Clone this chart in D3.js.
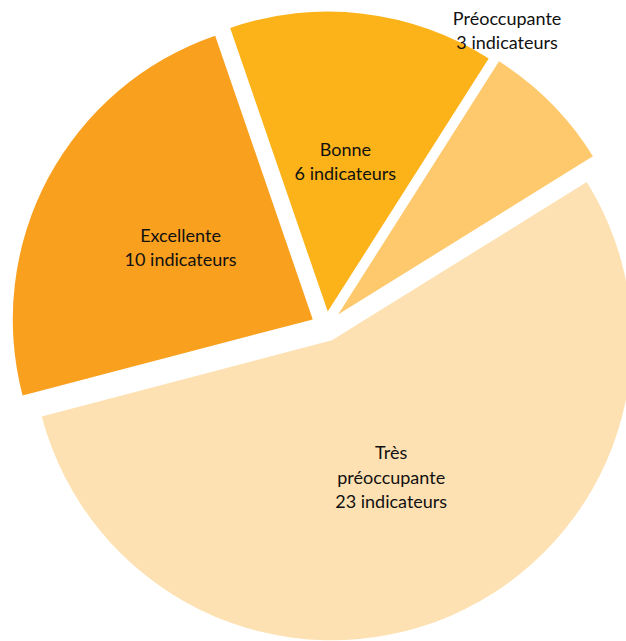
<!DOCTYPE html>
<html>
<head>
<meta charset="utf-8">
<script src="https://cdn.jsdelivr.net/npm/d3@7"></script>
<style>
  body { margin: 0; background: #fff; }
  text { font-family: Lato, "Open Sans", sans-serif; fill: #111; }
</style>
</head>
<body>
<div id="chart"></div>
<script>
// pie of indicator status, exploded slices, labels inside except the small one
const svgWidth = 626;
const svgHeight = 641;

// data
const categories = ["Excellente", "Bonne", "Préoccupante", "Très préoccupante"];
const counts = [10, 6, 3, 23];
const nameLines = [["Excellente"], ["Bonne"], ["Préoccupante"], ["Très", "préoccupante"]];
const unitLabel = "indicateurs";

const colors = ["#F9A01F", "#FCB31A", "#FEC96D", "#FEE1B2"];

const radius = 300;
const cx = 326, cy = 326.5;
const explode = [15, 15, 17, 15];
const lineHeight = 24.5;
const fontSize = 18;

const data = categories.map((c, i) => ({ name: c, count: counts[i], lines: nameLines[i] }));

const svg = d3.select("#chart")
    .append("svg")
    .attr("width", svgWidth)
    .attr("height", svgHeight)
    .append("g")
    .attr("transform", `translate(${cx},${cy})`);

const color = d3.scaleOrdinal().domain(categories).range(colors);

// first slice (Excellente) starts about 104.7 deg left of 12 o'clock
const start = -104.7 * Math.PI / 180;
const pie = d3.pie()
    .sort(null)
    .value(d => d.count)
    .startAngle(start)
    .endAngle(start + 2 * Math.PI);

const arc = d3.arc().innerRadius(0).outerRadius(radius);

const arcs = pie(data);

const offset = (d, i) => {
    const mid = (d.startAngle + d.endAngle) / 2;
    return [Math.sin(mid) * explode[i], -Math.cos(mid) * explode[i]];
};

const slices = svg.selectAll(".slice")
    .data(arcs)
    .enter()
    .append("g")
    .attr("class", "slice")
    .attr("transform", (d, i) => {
        const [ox, oy] = offset(d, i);
        return `translate(${ox},${oy})`;
    });

slices.append("path")
    .attr("d", arc)
    .attr("fill", d => color(d.data.name));

// labels: inside at the centroid, the small slice gets its label outside
slices.each(function (d, i) {
    const g = d3.select(this);
    const lines = d.data.lines.concat([`${d.data.count} ${unitLabel}`]);
    let x, y;
    if (d.data.count < 5) {
        const a = d.startAngle - 0.025;
        const rr = radius * 1.1;
        x = Math.sin(a) * rr - 1;
        y = -Math.cos(a) * rr;
    } else {
        [x, y] = arc.centroid(d);
    }
    const t = g.append("text")
        .attr("text-anchor", "middle")
        .attr("font-size", fontSize);
    lines.forEach((l, k) => {
        t.append("tspan")
            .attr("x", x)
            .attr("y", y - (lines.length - 1) * lineHeight / 2 + 5.5 + k * lineHeight)
            .text(l);
    });
});
</script>
</body>
</html>
